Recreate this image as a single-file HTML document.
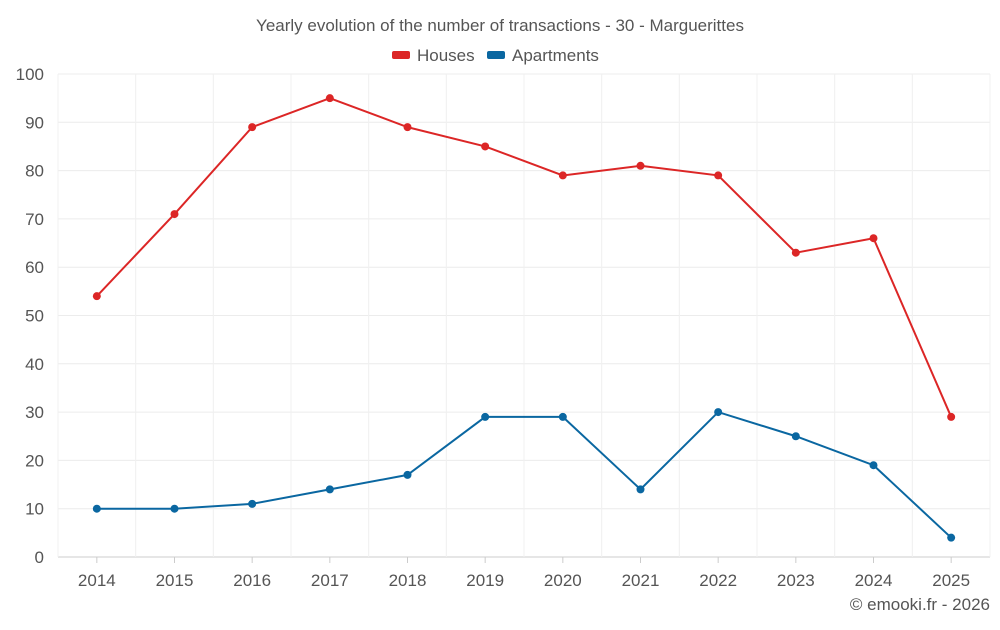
<!DOCTYPE html>
<html><head><meta charset="utf-8"><style>
body{margin:0;background:#fff;font-family:"Liberation Sans",sans-serif;}
svg text{font-family:"Liberation Sans",sans-serif;fill:#555;}
</style></head><body>
<svg id="chart" width="1000" height="625" xmlns="http://www.w3.org/2000/svg">
<text x="500" y="31" text-anchor="middle" font-size="17">Yearly evolution of the number of transactions - 30 - Marguerittes</text>
<g>
<g><rect x="392" y="51" width="18" height="8" rx="2" fill="#dc2626"/><text x="417" y="61" font-size="17">Houses</text></g>
<g><rect x="487" y="51" width="18" height="8" rx="2" fill="#0a67a1"/><text x="512" y="61" font-size="17">Apartments</text></g>
</g>
<g id="grid"></g>
<g id="axes"></g>
<g id="series"></g>
<text x="990" y="610" text-anchor="end" font-size="17">© emooki.fr - 2026</text>
</svg>
<script>
const years=["2014","2015","2016","2017","2018","2019","2020","2021","2022","2023","2024","2025"];
const houses=[54,71,89,95,89,85,79,81,79,63,66,29];
const apartments=[10,10,11,14,17,29,29,14,30,25,19,4];
const yTicks=[0,10,20,30,40,50,60,70,80,90,100];
const NS="http://www.w3.org/2000/svg";
const L=58,R=990,T=74,B=557;
const bw=(R-L)/years.length;
const x=i=>L+bw*(i+0.5);
const y=v=>B-(v/100)*(B-T);
function mk(tag,attrs,parent){const e=document.createElementNS(NS,tag);for(const k in attrs)e.setAttribute(k,attrs[k]);parent.appendChild(e);return e;}
const grid=document.getElementById('grid'),axes=document.getElementById('axes'),series=document.getElementById('series');
yTicks.forEach(t=>{
 const l=mk('line',{x1:L,x2:R,y1:y(t),y2:y(t),stroke:t===0?'#ccc':'#ececec'},grid);
 
 
 const tx=mk('text',{x:L-14,y:y(t)+6,'text-anchor':'end','font-size':'17'},axes);
 tx.textContent=t;
 
 
});
for(let i=0;i<=years.length;i++){
 const l=mk('line',{x1:L+bw*i,x2:L+bw*i,y1:T,y2:B,stroke:'#f0f0f0'},grid);
 
 
}
years.forEach((yr,i)=>{
 const tk=mk('line',{x1:x(i),x2:x(i),y1:B,y2:B+6,stroke:'#ccc'},axes);
 
 
 const tx=mk('text',{x:x(i),y:B+29,'text-anchor':'middle','font-size':'17'},axes);
 tx.textContent=yr;
 
 
});
function draw(vals,color,name){
 const p=mk('polyline',{points:vals.map((v,i)=>x(i)+','+y(v)).join(' '),fill:'none',stroke:color,'stroke-width':2},series);
 
 
 vals.forEach((v,i)=>{
  const c=mk('circle',{cx:x(i),cy:y(v),r:4,fill:color},series);
  
  
 });
}
draw(houses,'#dc2626','houses');
draw(apartments,'#0a67a1','apartments');
</script>
</body></html>
